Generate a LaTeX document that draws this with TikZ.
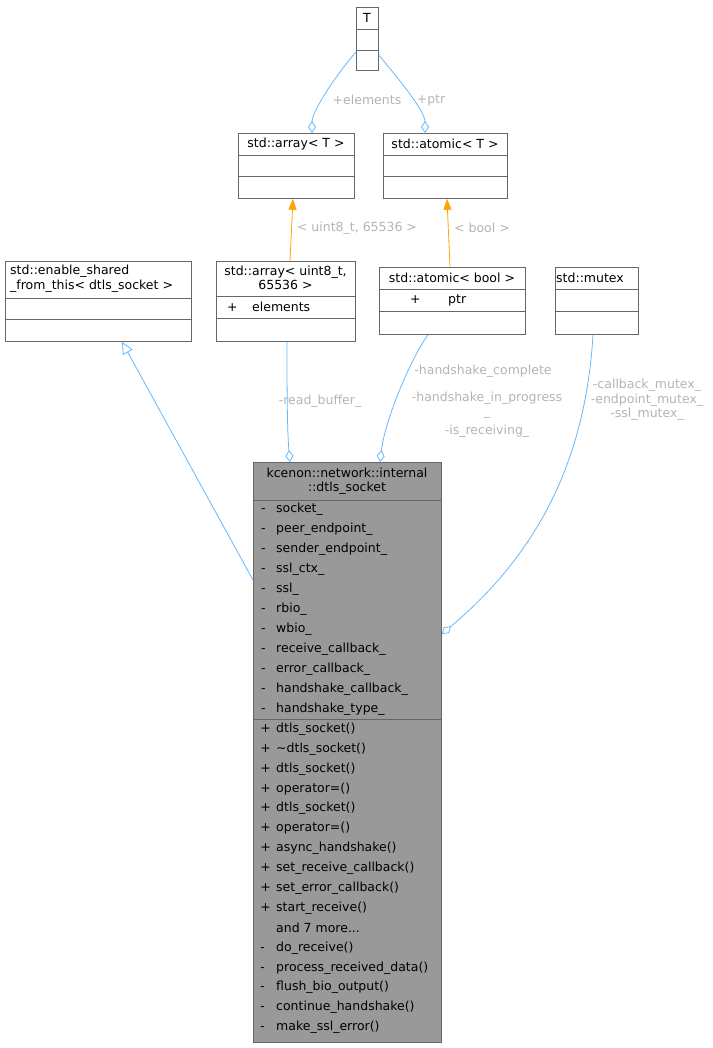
\documentclass[tikz,border=0pt]{standalone}
\usepackage{fontspec}
\setmainfont{DejaVu Sans}
\usetikzlibrary{arrows.meta,calc}
\definecolor{edgeblue}{HTML}{63B8FF}
\definecolor{tmplorange}{HTML}{FFA500}
\definecolor{lblgray}{HTML}{B4B4B4}
\definecolor{mainfill}{HTML}{999999}
\definecolor{boxline}{HTML}{666666}
\newcommand\moreops{and 7 more...}
\tikzset{
  box/.style={draw=boxline,fill=white,anchor=north west,inner sep=0pt,line width=0.8pt},
  txt/.style={inner sep=0pt,font=\fontsize{12.5}{14.5}\selectfont},
  lbl/.style={txt,text=lblgray,align=center},
  member/.style={txt,draw=none,fill=none,anchor=west},
  assoc/.style={draw=edgeblue,line width=0.8pt,{Diamond[open,length=12pt,width=8pt]}-},
  tmpl/.style={draw=tmplorange,line width=0.8pt,-{Triangle[length=11pt,width=8pt,fill=tmplorange]}},
  inherit/.style={draw=edgeblue,line width=0.8pt,{Triangle[open,length=12pt,width=11pt]}-}
}
\begin{document}
\begin{tikzpicture}[x=1pt,y=-1pt]
\useasboundingbox (0,0) rectangle (712,1048);
% class boxes
\node[box,minimum width=22pt,minimum height=63pt] (T) at (356,7) {};
\draw[boxline,line width=0.8pt] (356,29) -- (378,29) (356,50) -- (378,50);
\node[txt] (Tname) at (367,18) {T};
\node[box,minimum width=116pt,minimum height=65pt] (arrT) at (238,133) {};
\draw[boxline,line width=0.8pt] (238,155) -- (354,155) (238,176) -- (354,176);
\node[txt] (arrTname) at (296,144) {std::array< T >};
\node[box,minimum width=124pt,minimum height=65pt] (atomT) at (383,133) {};
\draw[boxline,line width=0.8pt] (383,155) -- (507,155) (383,176) -- (507,176);
\node[txt] (atomTname) at (445,144) {std::atomic< T >};
\node[box,minimum width=186pt,minimum height=80pt] (shared) at (5,261) {};
\draw[boxline,line width=0.8pt] (5,298) -- (191,298) (5,319) -- (191,319);
\node[txt,anchor=north west,align=left] (sharedname) at (10,265) {std::enable\_shared\\\_from\_this< dtls\_socket >};
\node[box,minimum width=139pt,minimum height=80pt] (arrU) at (216,261) {};
\draw[boxline,line width=0.8pt] (216,296) -- (355,296) (216,318) -- (355,318);
\node[txt,align=center] (arrUname) at (285.5,278) {std::array< uint8\_t,\\65536 >};
\node[member] (arrUel) at (227,307) {\makebox[25pt][l]{+}elements};
\node[box,minimum width=146pt,minimum height=67pt] (atomB) at (379,267) {};
\draw[boxline,line width=0.8pt] (379,289) -- (525,289) (379,311) -- (525,311);
\node[txt] (atomBname) at (452,278) {std::atomic< bool >};
\node[member] (atomBptr) at (410,300) {\makebox[38pt][l]{+}ptr};
\node[box,minimum width=83pt,minimum height=67pt] (mtx) at (555,267) {};
\draw[boxline,line width=0.8pt] (555,289) -- (638,289) (555,311) -- (638,311);
\node[txt] (mtxname) at (590,278) {std::mutex};
% main class
\node[box,fill=mainfill,minimum width=188pt,minimum height=580pt] (sock) at (253,462) {};
\draw[boxline,line width=0.8pt] (253,500) -- (441,500) (253,719) -- (441,719);
\node[txt,align=center] (sockname) at (347,481) {kcenon::network::internal\\::dtls\_socket};
\foreach \m [count=\i from 0] in {socket\_,peer\_endpoint\_,sender\_endpoint\_,ssl\_ctx\_,ssl\_,rbio\_,wbio\_,receive\_callback\_,error\_callback\_,handshake\_callback\_,handshake\_type\_}
  \node[member] (attr\i) at (261,{509+20*\i}) {\makebox[15pt][l]{-}\m};
\foreach \p/\m [count=\i from 0] in {+/dtls\_socket(),+/\textasciitilde dtls\_socket(),+/dtls\_socket(),+/operator=(),+/dtls\_socket(),+/operator=(),+/async\_handshake(),+/set\_receive\_callback(),+/set\_error\_callback(),+/start\_receive(),{}/\moreops,-/do\_receive(),-/process\_received\_data(),-/flush\_bio\_output(),-/continue\_handshake(),-/make\_ssl\_error()}
  \node[member] (op\i) at (258,{729+19.9*\i}) {\makebox[18pt][l]{\,\p}\m};
% connectors
\draw[assoc] (arrT.north west) ++(74,0) coordinate (arrTin) .. controls (312,110) and (340,70) .. (T.west |- 0,52);
\draw[assoc] (atomT.north west) ++(42,0) coordinate (atomTin) .. controls (425,110) and (395,75) .. (T.east |- 0,55);
\node[lbl] (lelem) at (367,100) {+elements};
\node[lbl] (lptr) at (431,100) {+ptr};
\draw[tmpl] (arrU.north west) ++(74,0) coordinate (arrUtop) -- ($(arrT.south west)+(55,0)$);
\draw[tmpl] (atomB.north west) ++(71,0) coordinate (atomBtop) -- ($(atomT.south west)+(64,0)$);
\node[lbl] (lu8) at (357,228) {< uint8\_t, 65536 >};
\node[lbl] (lbool) at (482,228) {< bool >};
\draw[inherit] ($(shared.south west)+(117,0)$) -- (sock.west |- 0,580);
\draw[assoc] ($(sock.north west)+(37,0)$) .. controls (287,430) and (287,380) .. ($(arrU.south west)+(71,0)$);
\node[lbl] (lread) at (320,401) {-read\_buffer\_};
\draw[assoc] ($(sock.north west)+(127,0)$) .. controls (385,420) and (410,360) .. ($(atomB.south west)+(49,0)$);
\node[lbl] (lhs) at (483,371) {-handshake\_complete};
\node[lbl] (lhp) at (487,405) {-handshake\_in\_progress\\\_};
\node[lbl] (lrecv) at (487,431) {-is\_receiving\_};
\draw[assoc] (sock.east |- 0,634) .. controls (530,560) and (585,470) .. ($(mtx.south west)+(38,0)$);
\node[lbl] (lmtx) at (647,400) {-callback\_mutex\_\\-endpoint\_mutex\_\\-ssl\_mutex\_};
\end{tikzpicture}
\end{document}
